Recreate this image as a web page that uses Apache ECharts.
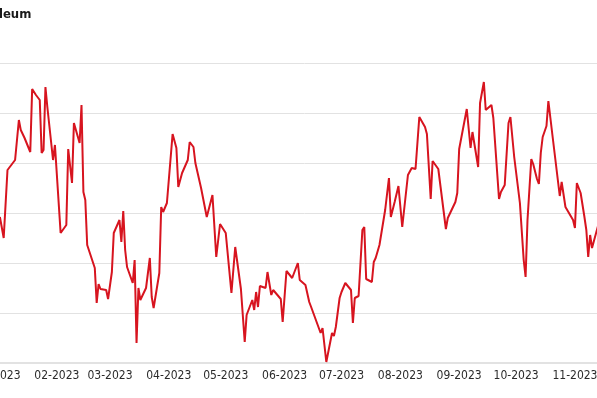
<!DOCTYPE html>
<html>
<head>
<meta charset="utf-8">
<title>Petroleum</title>
<script src="https://cdn.jsdelivr.net/npm/echarts@6/dist/echarts.min.js"></script>
<style>
  html, body { margin: 0; padding: 0; width: 597px; height: 398px; overflow: hidden; background: #fff; }
  /* the reference is a crop of a wider chart, so the canvas is shifted left */
  #chart { position: absolute; left: -50px; top: 0; width: 700px; height: 398px; }
</style>
</head>
<body>
<div id="chart"></div>
<script>
  var dates = [
    '2023-01-02','2023-01-04','2023-01-06','2023-01-08','2023-01-10','2023-01-11','2023-01-12','2023-01-13','2023-01-15','2023-01-18',
    '2023-01-19','2023-01-21','2023-01-23','2023-01-24','2023-01-25','2023-01-26','2023-01-27','2023-01-30','2023-01-31',
    '2023-02-03','2023-02-06','2023-02-07','2023-02-09','2023-02-10','2023-02-13','2023-02-14','2023-02-15','2023-02-16','2023-02-17',
    '2023-02-21','2023-02-22','2023-02-23','2023-02-24','2023-02-27','2023-02-28',
    '2023-03-02','2023-03-03','2023-03-06','2023-03-07','2023-03-08','2023-03-09','2023-03-10','2023-03-13','2023-03-14','2023-03-15',
    '2023-03-16','2023-03-17','2023-03-20','2023-03-22','2023-03-23','2023-03-24','2023-03-27','2023-03-28','2023-03-29','2023-03-31',
    '2023-04-03','2023-04-05','2023-04-06','2023-04-08','2023-04-11','2023-04-12','2023-04-14','2023-04-15','2023-04-18','2023-04-21',
    '2023-04-24','2023-04-26','2023-04-28',
    '2023-05-01','2023-05-04','2023-05-05','2023-05-06','2023-05-09','2023-05-10','2023-05-11','2023-05-12','2023-05-15','2023-05-16',
    '2023-05-17','2023-05-18','2023-05-19','2023-05-22','2023-05-23','2023-05-25','2023-05-26','2023-05-30','2023-05-31',
    '2023-06-02','2023-06-05','2023-06-06','2023-06-08','2023-06-09','2023-06-12','2023-06-14','2023-06-15','2023-06-20','2023-06-21',
    '2023-06-23','2023-06-26','2023-06-27','2023-06-28','2023-06-30',
    '2023-07-01','2023-07-03','2023-07-06','2023-07-07','2023-07-08','2023-07-10','2023-07-12','2023-07-13','2023-07-14','2023-07-17',
    '2023-07-18','2023-07-19','2023-07-21','2023-07-24','2023-07-26','2023-07-27','2023-07-29','2023-07-31',
    '2023-08-02','2023-08-05','2023-08-07','2023-08-08','2023-08-09','2023-08-10','2023-08-11','2023-08-14','2023-08-15','2023-08-17',
    '2023-08-18','2023-08-21','2023-08-25','2023-08-26','2023-08-30','2023-08-31',
    '2023-09-01','2023-09-05','2023-09-07','2023-09-08','2023-09-11','2023-09-12','2023-09-14','2023-09-15','2023-09-18','2023-09-19',
    '2023-09-22','2023-09-23','2023-09-25','2023-09-26','2023-09-27','2023-09-28','2023-09-30',
    '2023-10-03','2023-10-05','2023-10-06','2023-10-07','2023-10-09','2023-10-10','2023-10-12','2023-10-13','2023-10-14','2023-10-15',
    '2023-10-17','2023-10-18','2023-10-19','2023-10-20','2023-10-24','2023-10-25','2023-10-26','2023-10-27','2023-10-31',
    '2023-11-01','2023-11-02','2023-11-04','2023-11-06','2023-11-07','2023-11-08','2023-11-09','2023-11-10','2023-11-13','2023-11-15'
  ];
  var prices = [
    79.6, 77.5, 84.3, 84.8, 85.3, 85.2, 89.3, 88.3, 87.5, 86.1,
    92.4, 91.8, 91.3, 86.0, 86.3, 92.6, 90.6, 85.3, 86.8,
    78.0, 78.8, 86.4, 83.0, 89.0, 87.0, 90.8, 82.1, 81.3, 76.8,
    74.5, 71.0, 72.9, 72.4, 72.3, 71.4,
    74.1, 78.0, 79.3, 77.1, 80.2, 76.3, 74.6, 73.0, 75.3, 67.0,
    72.5, 71.3, 72.5, 75.5, 71.6, 70.5, 74.0, 80.6, 80.1, 81.0,
    87.9, 86.5, 82.6, 84.0, 85.3, 87.1, 86.6, 85.0, 82.5, 79.6,
    81.8, 75.6, 78.9,
    78.0, 72.0, 71.8, 76.6, 72.4, 72.3, 67.1, 69.8, 71.3, 70.3,
    72.1, 70.6, 72.7, 72.5, 74.1, 71.8, 72.3, 71.4, 69.1,
    74.2, 73.5, 73.5, 75.0, 73.3, 72.8, 71.1, 70.6, 68.0, 68.5,
    65.1, 68.0, 67.7, 68.6, 71.5,
    72.1, 73.0, 72.3, 69.0, 71.5, 71.7, 78.3, 78.6, 73.4, 73.1,
    75.1, 75.5, 76.8, 80.3, 83.5, 79.6, 81.1, 82.7,
    78.6, 83.8, 84.5, 84.7, 84.4, 84.4, 89.6, 88.6, 87.9, 81.4,
    85.2, 84.4, 78.4, 79.5, 81.1, 82.0,
    86.4, 90.4, 86.5, 88.1, 84.6, 91.0, 93.1, 90.3, 90.8, 89.5,
    81.4, 82.1, 82.8, 82.8, 89.0, 89.6, 85.6,
    81.0, 75.3, 73.6, 79.3, 85.4, 84.9, 83.4, 82.9, 86.0, 87.6,
    88.7, 91.2, 91.1, 88.0, 81.7, 83.1, 83.1, 80.6, 79.3,
    78.5, 83.0, 82.0, 79.6, 78.3, 75.6, 77.8, 76.5, 78.6, 79.5
  ];
  var axisFont = "'Liberation Sans Narrow', 'DejaVu Sans Condensed', sans-serif";

  var chart = echarts.init(document.getElementById('chart'));
  chart.setOption({
    animation: false,
    title: {
      text: 'Petroleum',
      left: 8,
      top: 3,
      textStyle: { fontFamily: axisFont, fontSize: 13, fontWeight: 'bold', color: '#1a1a1a' }
    },
    grid: { left: 48, top: 63, width: 613, height: 300, containLabel: false, outerBoundsMode: 'none' },
    xAxis: {
      type: 'time',
      min: '2023-01-01',
      max: '2023-11-20',
      minInterval: 28 * 86400000,
      maxInterval: 31 * 86400000,
      axisLine: { lineStyle: { color: '#e2e2e2', width: 2 } },
      axisTick: { show: false },
      splitLine: { show: false },
      axisLabel: {
        formatter: '{MM}-{yyyy}',
        fontFamily: axisFont,
        fontSize: 12,
        color: '#2b2b2b',
        margin: 7,
        hideOverlap: false
      }
    },
    yAxis: {
      type: 'value',
      min: 65,
      max: 95,
      interval: 5,
      axisLine: { show: false },
      axisTick: { show: false },
      axisLabel: { show: false },
      splitLine: { lineStyle: { color: '#e2e2e2', width: 1 } }
    },
    series: [{
      name: 'Petroleum',
      type: 'line',
      data: dates.map(function (d, i) { return [d, prices[i]]; }),
      showSymbol: false,
      lineStyle: { color: '#d7141f', width: 2 },
      itemStyle: { color: '#d7141f' }
    }]
  });
</script>
</body>
</html>
